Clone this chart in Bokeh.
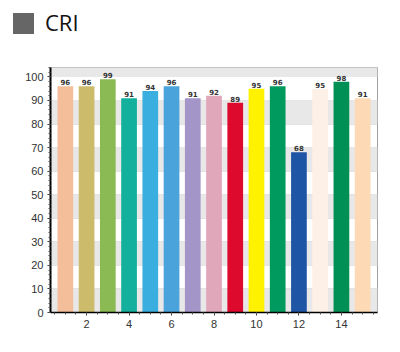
from bokeh.plotting import figure
from bokeh.models import ColumnDataSource, SingleIntervalTicker, Range1d, BoxAnnotation, Div
from bokeh.layouts import column
from bokeh.core.properties import value
from bokeh.embed import file_html
from bokeh.resources import INLINE

lamps = list(range(1, 16))
cri = [96, 96, 99, 91, 94, 96, 91, 92, 89, 95, 96, 68, 95, 98, 91]
colors = ["#F5BE9A", "#CDBB6C", "#8BBA55", "#13B09D", "#3AAEDF", "#4AA3DA", "#A495C8",
          "#E0A6BA", "#DD0A2E", "#FFF200", "#009A5E", "#1F55A5", "#FDF0E6", "#008F55", "#FDD9B5"]
series_name = "CRI"
swatch_color = "#666666"

src = ColumnDataSource(dict(x=lamps, y=cri, c=colors, t=[str(v) for v in cri]))

header = Div(
    text=('<div style="position:relative;width:400px;height:66px;">'
          f'<div style="position:absolute;left:13px;top:13px;width:21px;height:21px;background:{swatch_color};"></div>'
          '<div style="position:absolute;left:45px;top:11px;font-family:\'Open Sans\';font-size:22px;'
          f'line-height:22px;color:#111111;">{series_name}</div></div>'),
    width=400, height=66, margin=0)

p = figure(width=400, height=286, output_backend="svg", toolbar_location=None, title=None,
           x_range=Range1d(0.3, 15.7), y_range=Range1d(0, 104), margin=0,
           min_border_left=50, min_border_right=23, min_border_top=1, min_border_bottom=40)

# alternating grey bands (0-10, 20-30, ...)
for lo in range(0, 110, 20):
    p.add_layout(BoxAnnotation(bottom=lo, top=lo + 10, fill_color="#E8E8E8", fill_alpha=1,
                               line_color=None, level="underlay"))

p.vbar(x="x", top="y", width=0.74, fill_color="c", line_color=None, source=src)
p.text(x="x", y="y", text="t", source=src, text_align="center", text_baseline="bottom",
       y_offset=-1, text_font_size="7px", text_font_style="bold", text_color="#333333",
       text_font=value("DejaVu Sans"))

p.xgrid.grid_line_color = None
p.ygrid.grid_line_color = "#E2E2E2"

p.yaxis.ticker = SingleIntervalTicker(interval=10, num_minor_ticks=5)
p.xaxis.ticker = SingleIntervalTicker(interval=2, num_minor_ticks=4)
for ax in (p.xaxis, p.yaxis):
    ax.axis_line_color = "black"
    ax.major_tick_line_color = "#333333"
    ax.minor_tick_line_color = "#555555"
    ax.major_tick_out = 3
    ax.major_tick_in = 0
    ax.minor_tick_out = 2
    ax.minor_tick_in = 0
    ax.major_label_text_font = "Liberation Sans"
    ax.major_label_text_font_size = "11px"
    ax.major_label_text_color = "#333333"
p.yaxis.axis_line_width = 2
p.xaxis.axis_line_width = 1.5
p.yaxis.major_label_standoff = 4
p.xaxis.major_label_standoff = 4

p.outline_line_color = "#A0A0A0"
p.outline_line_width = 1
p.background_fill_color = "white"

layout = column(header, p, spacing=0, margin=0)

open("out.html", "w").write(file_html(layout, INLINE))
